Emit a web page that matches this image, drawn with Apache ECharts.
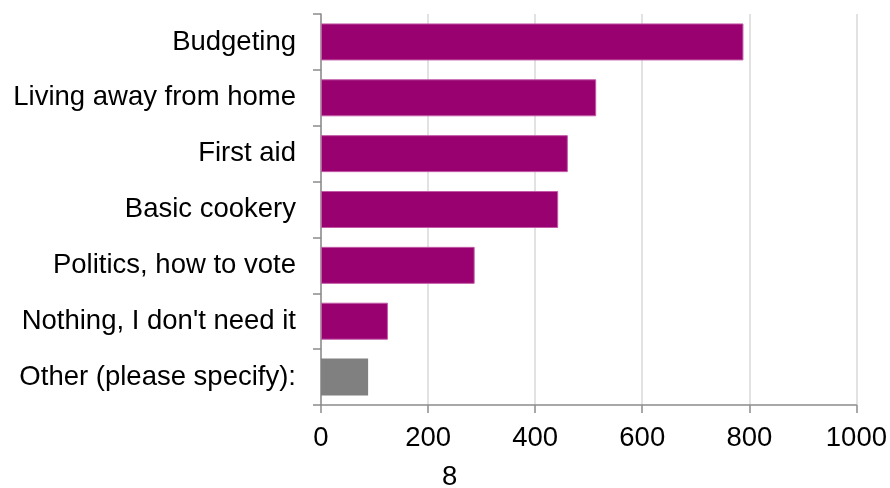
<!DOCTYPE html>
<html>
<head>
<meta charset="utf-8">
<script src="https://cdn.jsdelivr.net/npm/echarts@6/dist/echarts.min.js"></script>
<style>
  html, body { margin: 0; padding: 0; background: #ffffff; }
  #chart { width: 890px; height: 488px; }
</style>
</head>
<body>
<div id="chart"></div>
<script>
// Survey topics, listed top to bottom
const categories = [
  'Budgeting',
  'Living away from home',
  'First aid',
  'Basic cookery',
  'Politics, how to vote',
  "Nothing, I don't need it",
  'Other (please specify):'
];
const responses = [789, 514, 461, 443, 287, 125, 88];
const xTicks = [0, 200, 400, 600, 800, 1000];
const axisTitle = '8';

const MAIN = '#990070';
const OTHER = '#808080';
const font = 'Liberation Sans, Arial, Helvetica, sans-serif';
const FS = 27.5;

const chart = echarts.init(document.getElementById('chart'), null, { renderer: 'canvas' });

const barData = responses.map((v, i) => ({
  value: v,
  itemStyle: categories[i].startsWith('Other')
    ? { color: OTHER, borderWidth: 0 }
    : { color: MAIN, borderColor: '#c25aa6', borderWidth: 1 }
}));

chart.setOption({
  animation: false,
  backgroundColor: '#ffffff',
  title: {
    text: axisTitle,
    left: 442,
    top: 463,
    padding: 0,
    textStyle: { fontFamily: font, fontSize: FS, fontWeight: 'normal', color: '#000' }
  },
  grid: { left: 321, right: 31, top: 14, bottom: 83, containLabel: false },
  xAxis: {
    type: 'value',
    min: xTicks[0],
    max: xTicks[xTicks.length - 1],
    interval: xTicks[1] - xTicks[0],
    axisLine: { show: true, lineStyle: { color: '#8c8c8c', width: 1.5 } },
    axisTick: { show: true, length: 8, lineStyle: { color: '#8c8c8c', width: 1.5 } },
    splitLine: { show: true, lineStyle: { color: '#d9d9d9', width: 1.5 } },
    axisLabel: {
      fontFamily: font, fontSize: FS, color: '#000', margin: 19,
      formatter: v => String(v)
    }
  },
  yAxis: {
    type: 'category',
    data: categories,
    inverse: true,
    axisLine: { show: true, lineStyle: { color: '#8c8c8c', width: 1.5 } },
    axisTick: { show: true, length: 8, lineStyle: { color: '#8c8c8c', width: 1.5 } },
    axisLabel: { fontFamily: font, fontSize: FS, color: '#000', margin: 25 }
  },
  series: [{
    type: 'bar',
    data: barData,
    barWidth: 37
  }]
});
</script>
</body>
</html>
